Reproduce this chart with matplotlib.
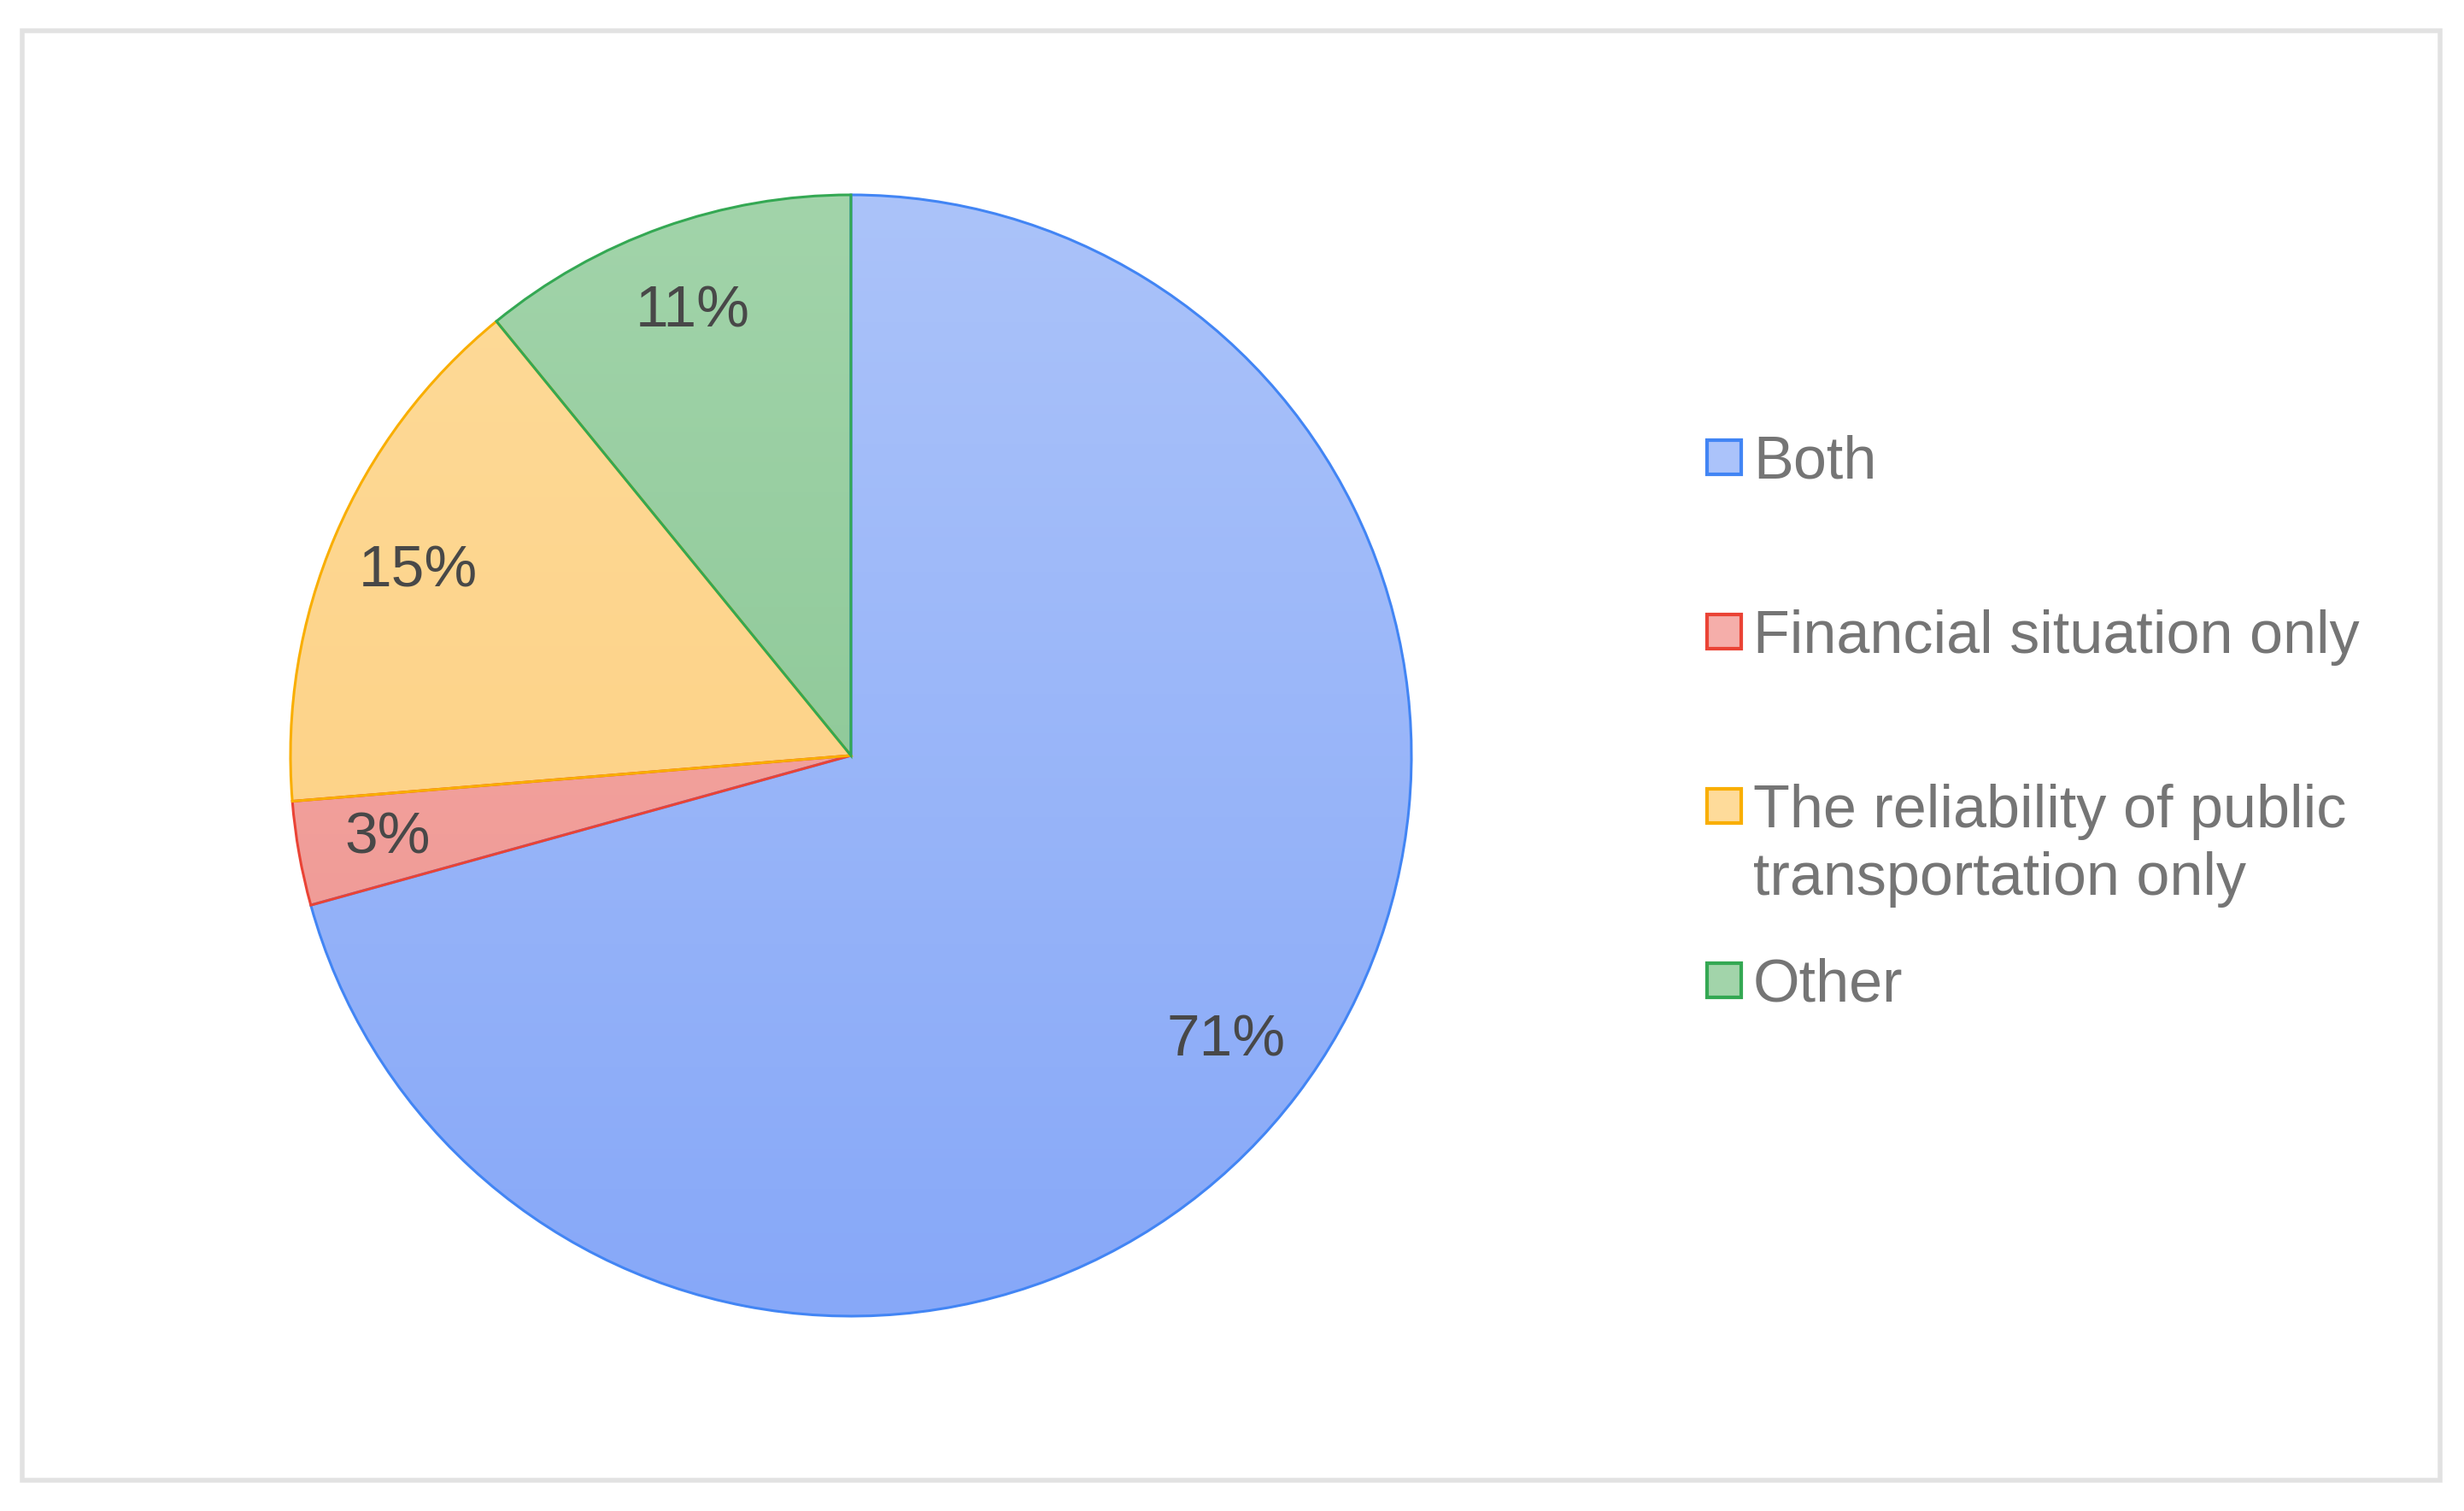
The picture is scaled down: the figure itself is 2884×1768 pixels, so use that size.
import matplotlib.pyplot as plt
import numpy as np
from matplotlib.colors import LinearSegmentedColormap
from matplotlib.patches import Rectangle

# Dados do gráfico
categories = ['Both', 'Financial situation only',
              'The reliability of public\ntransportation only', 'Other']
shares = [70.7, 3.0, 15.4, 10.9]
edge_colors = ['#4285f4', '#ea4335', '#f9ae00', '#34a853']
# gradiente vertical (topo -> base da pizza)
fill_top = ['#abc3fa', '#f5aeaa', '#fedb9a', '#a2d4aa']
fill_bottom = ['#87a8f8', '#ee928d', '#fdcc7a', '#80c18c']

plt.rcParams['font.family'] = ['Liberation Sans', 'DejaVu Sans']

W, H = 2884, 1768
fig = plt.figure(figsize=(W / 100, H / 100), dpi=100)

# moldura cinza
fig.patches.append(Rectangle((26 / W, 1 - 1732 / H), (2856 - 26) / W, (1732 - 36) / H,
                             transform=fig.transFigure, fill=False,
                             edgecolor='#e2e2e2', linewidth=4))

# pizza
cx, cy, r = 996, 884, 656
ax = fig.add_axes([(cx - r) / W, (H - cy - r) / H, 2 * r / W, 2 * r / H])
wedges, texts, autotexts = ax.pie(shares, startangle=90, counterclock=False,
                                  autopct=lambda p: f'{p:.0f}%', pctdistance=0.84,
                                  textprops=dict(fontsize=50, color='#484848'),
                                  wedgeprops=dict(linewidth=2.2))
grad = np.linspace(0, 1, 256).reshape(-1, 1)
for w, c, ct, cb in zip(wedges, edge_colors, fill_top, fill_bottom):
    w.set_facecolor('none')
    w.set_edgecolor(c)
    w.set_zorder(2)
    cmap = LinearSegmentedColormap.from_list('g', [ct, cb])
    im = ax.imshow(grad, extent=[-1, 1, -1, 1], origin='upper', cmap=cmap,
                   aspect='auto', zorder=1)
    im.set_clip_path(w)
for t in autotexts:
    t.set_zorder(3)
ax.set_xlim(-1, 1)
ax.set_ylim(-1, 1)
ax.axis('off')

# legenda manual
leg_y0, leg_step, line_step = 535, 204, 79
for i, (lab, c, ct) in enumerate(zip(categories, edge_colors, fill_top)):
    yc = leg_y0 + i * leg_step
    fig.patches.append(Rectangle((1998 / W, 1 - (yc + 20) / H), 40 / W, 40 / H,
                                 transform=fig.transFigure, facecolor=ct,
                                 edgecolor=c, linewidth=3))
    for j, line in enumerate(lab.split('\n')):
        fig.text(2052 / W, 1 - (yc + 25 + j * line_step) / H, line, fontsize=50.5,
                 color='#757575', ha='left', va='baseline')

fig.savefig('out.png', dpi=100)
